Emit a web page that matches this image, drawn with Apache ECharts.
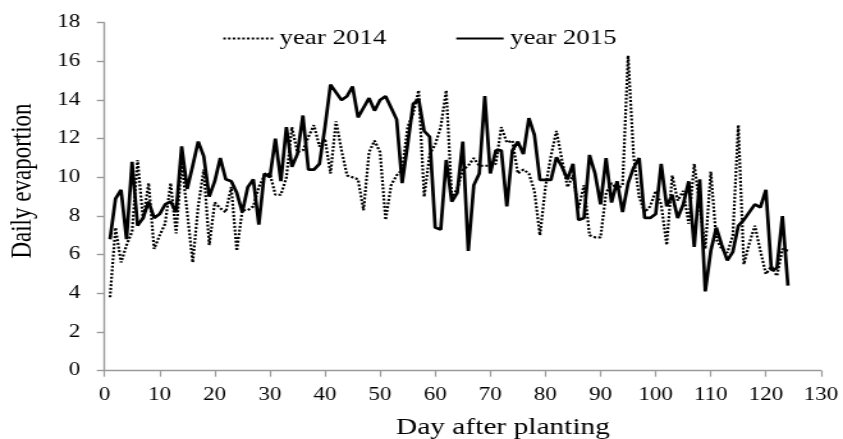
<!DOCTYPE html>
<html><head><meta charset="utf-8">
<script src="https://cdn.jsdelivr.net/npm/echarts@6/dist/echarts.min.js"></script>
<style>
html,body{margin:0;padding:0;background:#fff;overflow:hidden;}
#wrap{width:843px;height:439px;overflow:hidden;}
#chart{width:659px;height:439px;transform:scaleX(1.2792);transform-origin:0 0;}
</style></head>
<body><div id="wrap"><div id="chart"></div></div>
<script>
// Day after planting (1..124)
const days = Array.from({length:124}, (_, i) => i + 1);
const seriesNames = ['year 2014', 'year 2015'];
const xTicks = [0,10,20,30,40,50,60,70,80,90,100,110,120,130];
const yTicks = [0,2,4,6,8,10,12,14,16,18];

const evap2014 = [
 3.8,7.4,5.6,6.5,7.2,10.9,7.8,9.7,6.3,7.0,
 7.6,9.7,7.1,10.8,8.2,5.6,8.5,10.4,6.5,8.7,
 8.4,8.2,9.5,6.2,8.3,8.3,8.5,9.5,10.1,10.2,
 9.1,9.1,10.0,12.6,11.3,11.4,12.1,12.7,11.6,12.0,
 10.2,12.9,11.4,10.1,10.0,9.9,8.3,11.3,11.9,11.3,
 7.8,9.6,10.1,10.4,12.6,13.3,14.5,9.0,11.2,11.7,
 12.6,14.5,9.0,9.4,10.4,10.6,11.0,10.6,10.6,10.6,
 10.7,12.6,11.8,11.9,10.2,10.4,10.2,9.3,7.0,9.5,
 11.1,12.4,10.9,9.5,10.1,8.4,9.6,7.0,6.9,6.9,
 9.2,9.7,9.4,9.6,16.3,11.1,9.0,8.2,8.5,9.3,
 8.6,6.5,10.1,8.8,9.3,7.6,10.7,8.5,6.3,10.3,
 6.8,6.3,6.1,7.0,12.7,5.5,6.6,7.5,6.2,5.0,
 5.4,4.9,6.3,6.2
];
const evap2015 = [
 6.8,8.9,9.35,6.8,10.8,7.5,7.9,8.75,7.9,8.1,
 8.6,8.75,8.2,11.6,9.4,10.6,11.85,11.1,9.0,9.8,
 11.0,9.9,9.8,9.2,8.2,9.5,9.9,7.55,10.2,10.0,
 12.0,9.8,12.6,10.55,11.2,13.2,10.4,10.4,10.7,12.6,
 14.8,14.4,14.0,14.2,14.7,13.1,13.6,14.1,13.45,14.0,
 14.2,13.6,13.0,9.7,11.7,13.8,14.05,12.4,12.1,7.4,
 7.3,10.9,8.75,9.2,11.85,6.2,9.6,10.2,14.2,10.2,
 11.4,11.4,8.5,11.4,11.85,11.2,13.06,12.2,9.87,9.87,
 9.87,11.04,10.55,9.9,10.7,7.8,7.9,11.16,10.2,8.6,
 11.0,8.7,9.8,8.2,9.7,10.5,11.0,7.9,7.9,8.1,
 10.7,8.5,9.1,7.9,8.6,9.8,6.4,9.9,4.1,6.2,
 7.4,6.5,5.7,6.15,7.5,7.8,8.2,8.6,8.45,9.35,
 5.2,5.3,8.0,4.4
];

const S = 843 / 659;
const FONT = '"Liberation Serif","Times New Roman",serif';
const axisColor = '#9a9a9a';
const hiddenSymbol = {color: 'rgba(0,0,0,0)', borderWidth: 0, borderColor: 'rgba(0,0,0,0)', opacity: 0};

const chart = echarts.init(document.getElementById('chart'), null, {renderer:'canvas'});
chart.setOption({
  animation: false,
  backgroundColor: '#fff',
  grid: {left: 104.5 / S, right: 659 - 821 / S, top: 22.7, bottom: 439 - 370.7, containLabel: false},
  legend: [
    {data: [seriesNames[0]], left: 222 / S, top: 28, padding: 0, itemWidth: 39, itemHeight: 14, itemGap: 0,
     itemStyle: hiddenSymbol,
     textStyle: {fontFamily: FONT, fontSize: 21, color: '#000'}},
    {data: [seriesNames[1]], left: 455 / S, top: 28, padding: 0, itemWidth: 37, itemHeight: 14, itemGap: 0,
     itemStyle: hiddenSymbol,
     textStyle: {fontFamily: FONT, fontSize: 21, color: '#000'}}
  ],
  xAxis: {
    type: 'value', min: xTicks[0], max: xTicks[xTicks.length - 1], interval: 10,
    axisLine: {show: true, lineStyle: {color: axisColor, width: 1.4}},
    axisTick: {show: true, inside: false, length: 6, lineStyle: {color: axisColor, width: 1.2}},
    axisLabel: {margin: 16, fontFamily: FONT, fontSize: 18, color: '#000'},
    splitLine: {show: false}
  },
  yAxis: {
    type: 'value', min: yTicks[0], max: yTicks[yTicks.length - 1], interval: 2,
    axisLine: {show: true, lineStyle: {color: axisColor, width: 1.4}},
    axisTick: {show: true, inside: false, length: 6, lineStyle: {color: axisColor, width: 1.4}},
    axisLabel: {margin: 19, fontFamily: FONT, fontSize: 18, color: '#000'},
    splitLine: {show: false}
  },
  graphic: [
    {type: 'text', x: 503 / S, y: 428,
     style: {text: 'Day after planting', font: '23px ' + FONT, fill: '#000', textAlign: 'center', textVerticalAlign: 'middle'}},
    {type: 'text', x: 23 / S, y: 181, rotation: Math.PI / 2,
     style: {text: 'Daily evaportion', font: '23px ' + FONT, fill: '#000', textAlign: 'center', textVerticalAlign: 'middle'}}
  ],
  series: [
    {name: seriesNames[0], type: 'line', symbol: 'none', smooth: false,
     data: days.map((d, i) => [d, evap2014[i]]),
     lineStyle: {color: '#000', width: 2.2, type: [2, 1.7]},
     itemStyle: {color: '#000'}, z: 2},
    {name: seriesNames[1], type: 'line', symbol: 'none', smooth: false,
     data: days.map((d, i) => [d, evap2015[i]]),
     lineStyle: {color: '#000', width: 2.7, type: 'solid'},
     itemStyle: {color: '#000'}, z: 3}
  ]
});
</script>
</body></html>
